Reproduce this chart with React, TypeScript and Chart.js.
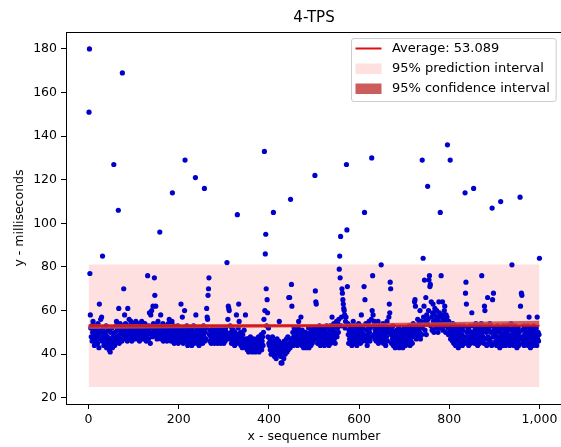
import React, { useEffect, useRef } from "react";
import { Chart, registerables } from "chart.js";

Chart.register(...registerables);

// ---- data ----
const titleText = "4-TPS";
const xTitle = "x - sequence number";
const yTitle = "y - milliseconds";
const xTickValues = [0, 200, 400, 600, 800, 1000];
const yTickValues = [20, 40, 60, 80, 100, 120, 140, 160, 180];
const xFirst = 1;

const seg0 = [
  151, 180, 77, 58, 52, 48, 53, 46, 50, 55,
  47, 51, 44, 49, 53, 46, 50, 48, 52, 45,
  54, 49, 43, 63, 51, 47, 56, 50, 57, 46,
  85, 48, 52, 44, 47, 50, 45, 49, 53, 43,
  46, 48, 44, 51, 45, 42, 47, 41, 50, 44,
  46, 52, 43, 48, 45, 127, 49, 44, 50, 47,
  53, 55, 46, 51, 48, 106, 61, 45, 49, 54,
  47, 52, 50, 46, 169, 53, 49, 70, 51, 58,
  48, 54, 47, 50, 52, 46, 61, 49, 53, 56,
  47, 51, 48, 55, 50, 46, 52, 49, 54, 48,
];
const seg1 = [
  51, 47, 53, 49, 55, 48, 50, 52, 47, 54,
  49, 51, 46, 53, 50, 48, 52, 55, 47, 50,
  53, 49, 51, 47, 54, 48, 50, 46, 52, 49,
  76, 51, 47, 53, 59, 50, 45, 58, 49, 60,
  52, 48, 62, 54, 50, 75, 67, 51, 62, 49,
  53, 47, 50, 55, 48, 52, 49, 96, 51, 58,
  47, 53, 50, 48, 54, 46, 51, 49, 52, 47,
  50, 53, 48, 46, 51, 49, 54, 47, 56, 50,
  48, 52, 46, 50, 55, 114, 49, 47, 53, 45,
  51, 48, 50, 46, 52, 49, 47, 53, 45, 50,
];
const seg2 = [
  48, 52, 46, 50, 63, 47, 51, 57, 49, 45,
  52, 48, 60, 129, 47, 50, 46, 53, 49, 44,
  51, 47, 49, 45, 52, 48, 46, 50, 44, 51,
  47, 49, 53, 45, 48, 50, 121, 58, 46, 52,
  49, 45, 51, 47, 44, 50, 48, 52, 46, 49,
  47, 51, 45, 49, 53, 48, 116, 46, 50, 47,
  52, 61, 57, 56, 67, 70, 75, 49, 46, 51,
  48, 45, 50, 47, 52, 46, 49, 51, 45, 48,
  50, 47, 52, 46, 49, 45, 51, 48, 46, 50,
  47, 52, 45, 49, 51, 46, 48, 50, 47, 45,
];
const seg3 = [
  49, 51, 46, 52, 48, 50, 82, 47, 56, 62,
  61, 60, 49, 53, 47, 50, 45, 52, 48, 46,
  51, 47, 49, 44, 50, 46, 48, 58, 45, 104,
  49, 52, 63, 55, 47, 45, 50, 44, 48, 46,
  43, 49, 47, 45, 51, 44, 46, 58, 43, 47,
  45, 42, 47, 44, 41, 46, 43, 45, 48, 42,
  44, 46, 41, 45, 43, 47, 42, 44, 46, 41,
  45, 43, 47, 42, 46, 44, 48, 41, 45, 43,
  47, 44, 49, 42, 46, 48, 44, 50, 56, 133,
  60, 86, 95, 70, 53, 65, 59, 48, 52, 45,
];
const seg4 = [
  44, 47, 42, 46, 40, 45, 43, 48, 41, 105,
  44, 39, 46, 42, 45, 38, 43, 47, 40, 44,
  42, 46, 55, 41, 44, 39, 36, 43, 36, 45,
  41, 44, 38, 46, 42, 40, 45, 43, 47, 41,
  44, 48, 42, 66, 45, 66, 43, 111, 47, 72,
  62, 46, 50, 44, 48, 52, 45, 49, 47, 51,
  46, 50, 44, 48, 52, 55, 47, 45, 50, 46,
  57, 49, 44, 51, 47, 45, 43, 48, 46, 44,
  50, 45, 43, 47, 49, 44, 46, 52, 43, 48,
  46, 50, 44, 47, 51, 45, 49, 46, 52, 48,
];
const seg5 = [
  50, 122, 69, 64, 63, 47, 52, 45, 49, 51,
  46, 53, 48, 44, 50, 47, 52, 45, 49, 46,
  51, 48, 44, 52, 47, 50, 45, 53, 49, 46,
  52, 48, 44, 50, 47, 53, 45, 49, 51, 57,
  46, 52, 48, 54, 47, 50, 45, 53, 49, 55,
  48, 52, 54, 50, 56, 79, 85, 75, 94, 53,
  57, 70, 68, 65, 63, 61, 60, 58, 52, 55,
  57, 127, 97, 71, 54, 49, 45, 51, 47, 53,
  46, 50, 48, 44, 52, 47, 55, 49, 45, 51,
  48, 53, 46, 50, 44, 52, 47, 49, 54, 46,
];
const seg6 = [
  51, 48, 45, 53, 58, 47, 50, 46, 52, 49,
  71, 105, 65, 48, 54, 46, 51, 44, 49, 53,
  47, 55, 50, 46, 52, 48, 56, 130, 60, 76,
  58, 53, 49, 55, 47, 51, 54, 46, 50, 52,
  48, 55, 45, 51, 49, 53, 47, 50, 81, 46,
  52, 48, 54, 45, 50, 47, 53, 49, 44, 51,
  48, 55, 46, 50, 52, 57, 63, 59, 73, 70,
  49, 45, 51, 47, 53, 44, 48, 50, 46, 43,
  49, 45, 51, 47, 44, 50, 46, 52, 43, 48,
  45, 50, 47, 44, 51, 46, 43, 49, 45, 52,
];
const seg7 = [
  47, 50, 44, 48, 52, 46, 49, 45, 51, 47,
  53, 48, 44, 50, 46, 52, 49, 45, 51, 54,
  48, 52, 64, 65, 62, 50, 47, 53, 49, 56,
  51, 48, 54, 50, 60, 47, 55, 52, 49, 129,
  53, 84, 57, 62, 74, 51, 55, 66, 49, 58,
  54, 117, 56, 60, 74, 76, 71, 72, 53, 64,
  57, 51, 59, 63, 55, 50, 58, 61, 54, 52,
  56, 60, 53, 57, 50, 55, 64, 59, 52, 105,
  57, 76, 54, 58, 64, 51, 56, 53, 60, 62,
  55, 50, 58, 54, 57, 136, 52, 49, 55, 53,
];
const seg8 = [
  50, 129, 47, 53, 49, 51, 46, 54, 48, 45,
  52, 47, 50, 44, 53, 48, 46, 51, 49, 43,
  50, 47, 53, 45, 48, 52, 46, 49, 44, 51,
  47, 53, 48, 45, 114, 68, 73, 63, 50, 46,
  52, 48, 44, 51, 47, 53, 45, 49, 46, 59,
  50, 47, 53, 116, 48, 45, 51, 49, 54, 46,
  52, 47, 44, 50, 48, 53, 45, 51, 47, 49,
  54, 76, 46, 50, 48, 52, 45, 62, 60, 53,
  47, 50, 44, 52, 66, 48, 45, 51, 47, 54,
  46, 50, 53, 44, 107, 65, 48, 68, 51, 45,
];
const seg9 = [
  49, 52, 46, 50, 44, 48, 53, 47, 45, 51,
  48, 43, 50, 110, 46, 52, 47, 44, 49, 53,
  45, 48, 51, 46, 44, 50, 47, 53, 45, 49,
  52, 46, 48, 44, 51, 47, 54, 45, 81, 49,
  46, 52, 44, 50, 47, 53, 45, 48, 51, 43,
  49, 46, 52, 44, 50, 47, 112, 62, 48, 68,
  67, 45, 51, 47, 53, 44, 49, 46, 52, 48,
  45, 50, 47, 53, 44, 49, 57, 46, 51, 43,
  48, 52, 45, 50, 47, 44, 53, 46, 49, 51,
  45, 48, 52, 44, 57, 47, 50, 46, 49, 84,
];

const avgValue = 53.089;
const avgX = [0, 1000];
const predX = [0, 1000];
const predLower = [24.9, 24.9];
const predUpper = [81.1, 81.1];
const confX = [0, 500, 1000];
const confLower = [51.5, 52.4, 52.9];
const confUpper = [53.7, 53.8, 55.3];

const avgLabel = `Average: ${avgValue.toFixed(3)}`;
const predLabel = "95% prediction interval";
const confLabel = "95% confidence interval";

// ---- styling ----
const FONT = "DejaVu Sans";
const TICK_FS = 12.5;
const LEGEND_FS = 13;
const POINT_COLOR = "#0000cc";
const AVG_COLOR = "#dd1111";
const PRED_COLOR = "rgb(255,224,224)";
const CONF_COLOR = "rgb(205,92,92)";
const CONF_FILL = "rgba(200,70,70,0.85)";
const CANVAS_W = 600;
const PLOT_RIGHT = 562;
const VIEW_W = 561;

const frameAndLegend = {
  id: "frameAndLegend",
  afterDraw(chart: any) {
    const { ctx, chartArea } = chart;
    const { left, top, right, bottom } = chartArea;
    ctx.save();
    // clear the strip right of the plotted marks (nothing is drawn there in the reference)
    ctx.fillStyle = "#fff";
    ctx.fillRect(chart.scales.x.getPixelForValue(1020), top, CANVAS_W, bottom - top + 1);

    // spines: left, top, bottom (the right one lies outside the picture)
    const L = Math.round(left);
    const T = Math.round(top);
    const B = Math.round(bottom);
    ctx.fillStyle = "#000";
    ctx.fillRect(L, T, VIEW_W - L, 1);
    ctx.fillRect(L, T, 1, B - T + 1);
    ctx.fillRect(L, B, VIEW_W - L, 1);

    // legend
    const fs = LEGEND_FS;
    ctx.font = `${fs}px "${FONT}"`;
    const labels = [avgLabel, predLabel, confLabel];
    const tw = Math.max(...labels.map((l) => ctx.measureText(l).width));
    const pad = 0.4 * fs;
    const handle = 2 * fs;
    const hpad = 0.8 * fs;
    const w = pad * 2 + handle + hpad + tw;
    const h = 63;
    const bx = Math.round(right - 6.25 - w) + 0.5;
    const by = Math.round(top + 6.25) + 0.5;
    const r = 2.5;
    ctx.beginPath();
    ctx.moveTo(bx + r, by);
    ctx.lineTo(bx + w - r, by);
    ctx.arcTo(bx + w, by, bx + w, by + r, r);
    ctx.lineTo(bx + w, by + h - r);
    ctx.arcTo(bx + w, by + h, bx + w - r, by + h, r);
    ctx.lineTo(bx + r, by + h);
    ctx.arcTo(bx, by + h, bx, by + h - r, r);
    ctx.lineTo(bx, by + r);
    ctx.arcTo(bx, by, bx + r, by, r);
    ctx.closePath();
    ctx.fillStyle = "rgba(255,255,255,0.8)";
    ctx.fill();
    ctx.strokeStyle = "#cccccc";
    ctx.lineWidth = 1;
    ctx.stroke();

    const hx = bx + 4;
    const rowY = [by + 10, by + 30, by + 50];
    ctx.strokeStyle = AVG_COLOR;
    ctx.lineWidth = 2;
    ctx.beginPath();
    ctx.moveTo(hx, rowY[0]);
    ctx.lineTo(hx + handle, rowY[0]);
    ctx.stroke();
    ctx.fillStyle = PRED_COLOR;
    ctx.fillRect(hx, rowY[1] - 5, handle, 10.5);
    ctx.fillStyle = CONF_COLOR;
    ctx.fillRect(hx, rowY[2] - 5, handle, 10.5);
    ctx.fillStyle = "#000";
    ctx.textBaseline = "middle";
    ctx.textAlign = "left";
    labels.forEach((l, i) => ctx.fillText(l, hx + handle + hpad, rowY[i] + 0.5));
    ctx.restore();
  },
};

export default function App() {
  const ref = useRef<HTMLCanvasElement | null>(null);

  useEffect(() => {
    if (!ref.current) return;
    const yValues = [...seg0, ...seg1, ...seg2, ...seg3, ...seg4, ...seg5, ...seg6, ...seg7, ...seg8, ...seg9];
    const points = yValues.map((y, i) => ({ x: xFirst + i, y }));
    const toXY = (xs: number[], ys: number[]) => xs.map((x, i) => ({ x, y: ys[i] }));

    const tickFont = { family: FONT, size: TICK_FS };
    const bandLine = { borderWidth: 1, borderColor: "transparent", pointRadius: 0 };
    const chart = new Chart(ref.current, {
      type: "scatter",
      data: {
        datasets: [
          { type: "line", label: predLabel + " lower", data: toXY(predX, predLower), ...bandLine, fill: false, order: 5 } as any,
          { type: "line", label: predLabel, data: toXY(predX, predUpper), ...bandLine, backgroundColor: PRED_COLOR, fill: "-1", order: 5 } as any,
          {
            type: "scatter",
            label: "data",
            data: points,
            pointRadius: 2.6,
            pointBackgroundColor: POINT_COLOR,
            pointBorderWidth: 0,
            pointBorderColor: "transparent",
            order: 3,
          } as any,
          { type: "line", label: confLabel + " lower", data: toXY(confX, confLower), ...bandLine, fill: false, order: 2 } as any,
          { type: "line", label: confLabel, data: toXY(confX, confUpper), ...bandLine, backgroundColor: CONF_FILL, fill: "-1", order: 2 } as any,
          {
            type: "line",
            label: avgLabel,
            data: toXY(avgX, avgX.map(() => avgValue)),
            borderColor: AVG_COLOR,
            borderWidth: 2,
            pointRadius: 0,
            fill: false,
            order: 1,
          } as any,
        ],
      },
      options: {
        responsive: false,
        animation: false,
        events: [],
        layout: { padding: { left: 0, right: CANVAS_W - PLOT_RIGHT, top: 0, bottom: 0 } },
        plugins: {
          legend: { display: false },
          tooltip: { enabled: false },
          title: {
            display: true,
            text: titleText,
            color: "#000",
            fullSize: false,
            font: { family: FONT, size: 15, weight: "normal" },
            padding: { top: 9.4, bottom: 4.6 },
          },
        },
        scales: {
          x: {
            type: "linear",
            min: -50,
            max: 1050,
            afterBuildTicks: (s: any) => {
              s.ticks = xTickValues.map((v) => ({ value: v }));
            },
            afterFit: (s: any) => {
              s.height = 43;
            },
            grid: { display: true, drawOnChartArea: false, drawTicks: true, tickLength: 5, color: "#000", tickColor: "#000" },
            border: { display: false },
            ticks: { font: tickFont, color: "#000", padding: 3, maxRotation: 0, autoSkip: false },
            title: {
              display: true,
              text: xTitle,
              color: "#000",
              font: { family: FONT, size: TICK_FS },
              padding: { top: 0, bottom: 2.5 },
            },
          },
          y: {
            type: "linear",
            min: 17.15,
            max: 187.76,
            afterBuildTicks: (s: any) => {
              s.ticks = yTickValues.map((v) => ({ value: v }));
            },
            afterFit: (s: any) => {
              s.width = 66;
            },
            grid: { display: true, drawOnChartArea: false, drawTicks: true, tickLength: 5, color: "#000", tickColor: "#000" },
            border: { display: false },
            ticks: { font: tickFont, color: "#000", padding: 4, autoSkip: false },
            title: {
              display: true,
              text: yTitle,
              color: "#000",
              font: { family: FONT, size: TICK_FS },
              padding: { top: 12, bottom: 0 },
            },
          },
        },
      } as any,
      plugins: [frameAndLegend],
    });
    return () => chart.destroy();
  }, []);

  return (
    <div style={{ position: "fixed", left: 0, top: 0, width: VIEW_W, height: 447, overflow: "hidden", background: "#fff" }}>
      <canvas ref={ref} width={CANVAS_W} height={447} style={{ display: "block", width: CANVAS_W, height: 447 }} />
    </div>
  );
}
